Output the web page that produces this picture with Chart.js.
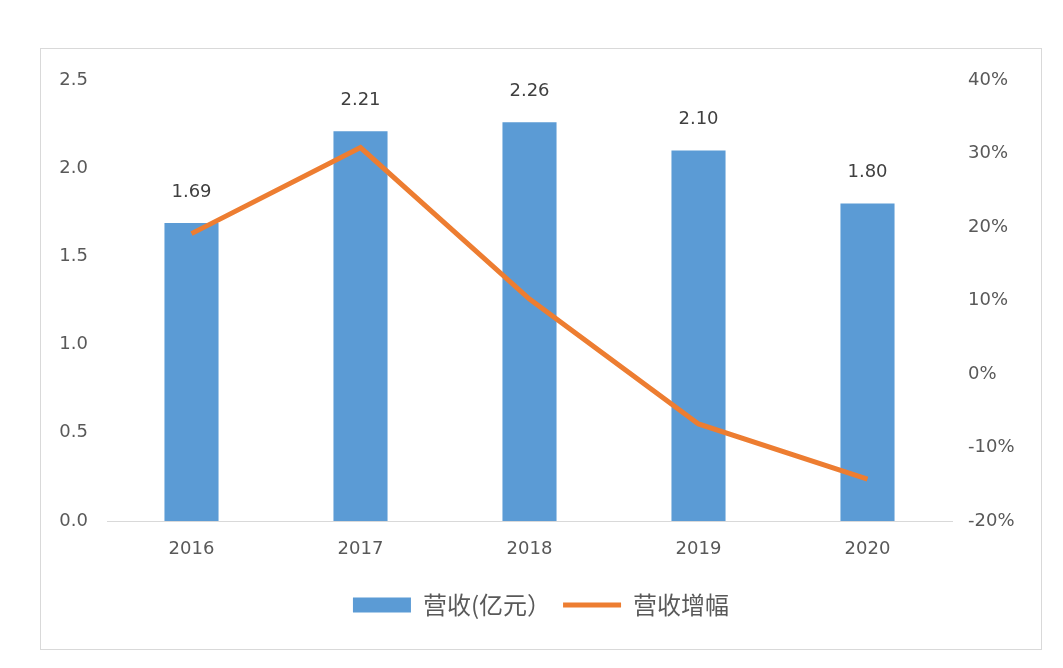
<!DOCTYPE html>
<html>
<head>
<meta charset="utf-8">
<script src="https://cdn.jsdelivr.net/npm/chart.js@4/dist/chart.umd.min.js"></script>
<style>
  html, body { margin: 0; padding: 0; background: #fff; }
  #frame {
    position: absolute; left: 40px; top: 48px;
    width: 1000px; height: 600px;
    border: 1px solid #d9d9d9;
  }
</style>
</head>
<body>
<div id="frame"><canvas id="c" width="1000" height="600"></canvas></div>
<script>
// data
var years = ['2016', '2017', '2018', '2019', '2020'];
var revenue = [1.69, 2.21, 2.26, 2.10, 1.80];      // 营收(亿元)
var growth = [19.1, 30.8, 10.2, -6.8, -14.3];       // 营收增幅 %
var leftTicks = [0, 0.5, 1.0, 1.5, 2.0, 2.5];
var rightTicks = [-20, -10, 0, 10, 20, 30, 40];

var tickFont = { family: "'DejaVu Sans', sans-serif", size: 18 };

// value labels above the bars
var barLabels = {
  id: 'barLabels',
  afterDatasetsDraw: function(chart) {
    var ctx = chart.ctx;
    var meta = chart.getDatasetMeta(1);
    ctx.save();
    ctx.font = "18px 'DejaVu Sans', sans-serif";
    ctx.fillStyle = '#404040';
    ctx.textAlign = 'center';
    ctx.textBaseline = 'middle';
    meta.data.forEach(function(bar, i) {
      ctx.fillText(revenue[i].toFixed(2), bar.x, bar.y - 31);
    });
    ctx.restore();
  }
};

var ctx = document.getElementById('c').getContext('2d');
var myChart = new Chart(ctx, {
  type: 'bar',
  data: {
    labels: years,
    datasets: [{
      type: 'line',
      label: '营收增幅',
      data: growth,
      yAxisID: 'y1',
      borderColor: '#ed7d31',
      backgroundColor: '#ed7d31',
      borderWidth: 5,
      pointRadius: 0,
      tension: 0,
      order: 0
    }, {
      label: '营收(亿元）',
      data: revenue,
      yAxisID: 'y',
      backgroundColor: '#5b9bd5',
      barPercentage: 0.64,
      categoryPercentage: 0.5,
      order: 1
    }]
  },
  plugins: [barLabels],
  options: {
    responsive: false,
    animation: false,
    layout: { padding: { top: 31, left: 0, right: 0, bottom: 22 } },
    plugins: {
      tooltip: { enabled: false },
      legend: {
        position: 'bottom',
        reverse: true,
        labels: {
          font: { family: "'Noto Sans CJK SC', sans-serif", size: 24 },
          color: '#595959',
          usePointStyle: true,
          pointStyleWidth: 58,
          boxHeight: 15,
          padding: 12,
          generateLabels: function(chart) {
            return chart.data.datasets.map(function(ds, i) {
              var isLine = ds.type === 'line';
              return {
                text: ds.label,
                fillStyle: ds.backgroundColor,
                strokeStyle: ds.backgroundColor,
                lineWidth: isLine ? 5 : 0,
                pointStyle: isLine ? 'line' : 'rect',
                datasetIndex: i,
                fontColor: '#595959'
              };
            });
          }
        }
      }
    },
    scales: {
      x: {
        grid: { display: false, drawTicks: false },
        border: { display: true, color: '#d9d9d9', width: 1 },
        ticks: { color: '#595959', font: tickFont, padding: 18 },
        afterFit: function(scale) { scale.height = 60; }
      },
      y: {
        position: 'left',
        min: 0, max: 2.5,
        afterBuildTicks: function(scale) {
          scale.ticks = leftTicks.map(function(v) { return { value: v }; });
        },
        ticks: {
          color: '#595959', font: tickFont, padding: 19,
          callback: function(v) { return v.toFixed(1); }
        },
        grid: { display: false, drawTicks: false },
        border: { display: false },
        afterFit: function(scale) { scale.width = 66; }
      },
      y1: {
        position: 'right',
        min: -20, max: 40,
        afterBuildTicks: function(scale) {
          scale.ticks = rightTicks.map(function(v) { return { value: v }; });
        },
        ticks: {
          color: '#595959', font: tickFont, padding: 16,
          callback: function(v) { return v + '%'; }
        },
        grid: { display: false, drawTicks: false },
        border: { display: false },
        afterFit: function(scale) { scale.width = 89; }
      }
    }
  }
});
</script>
</body>
</html>
